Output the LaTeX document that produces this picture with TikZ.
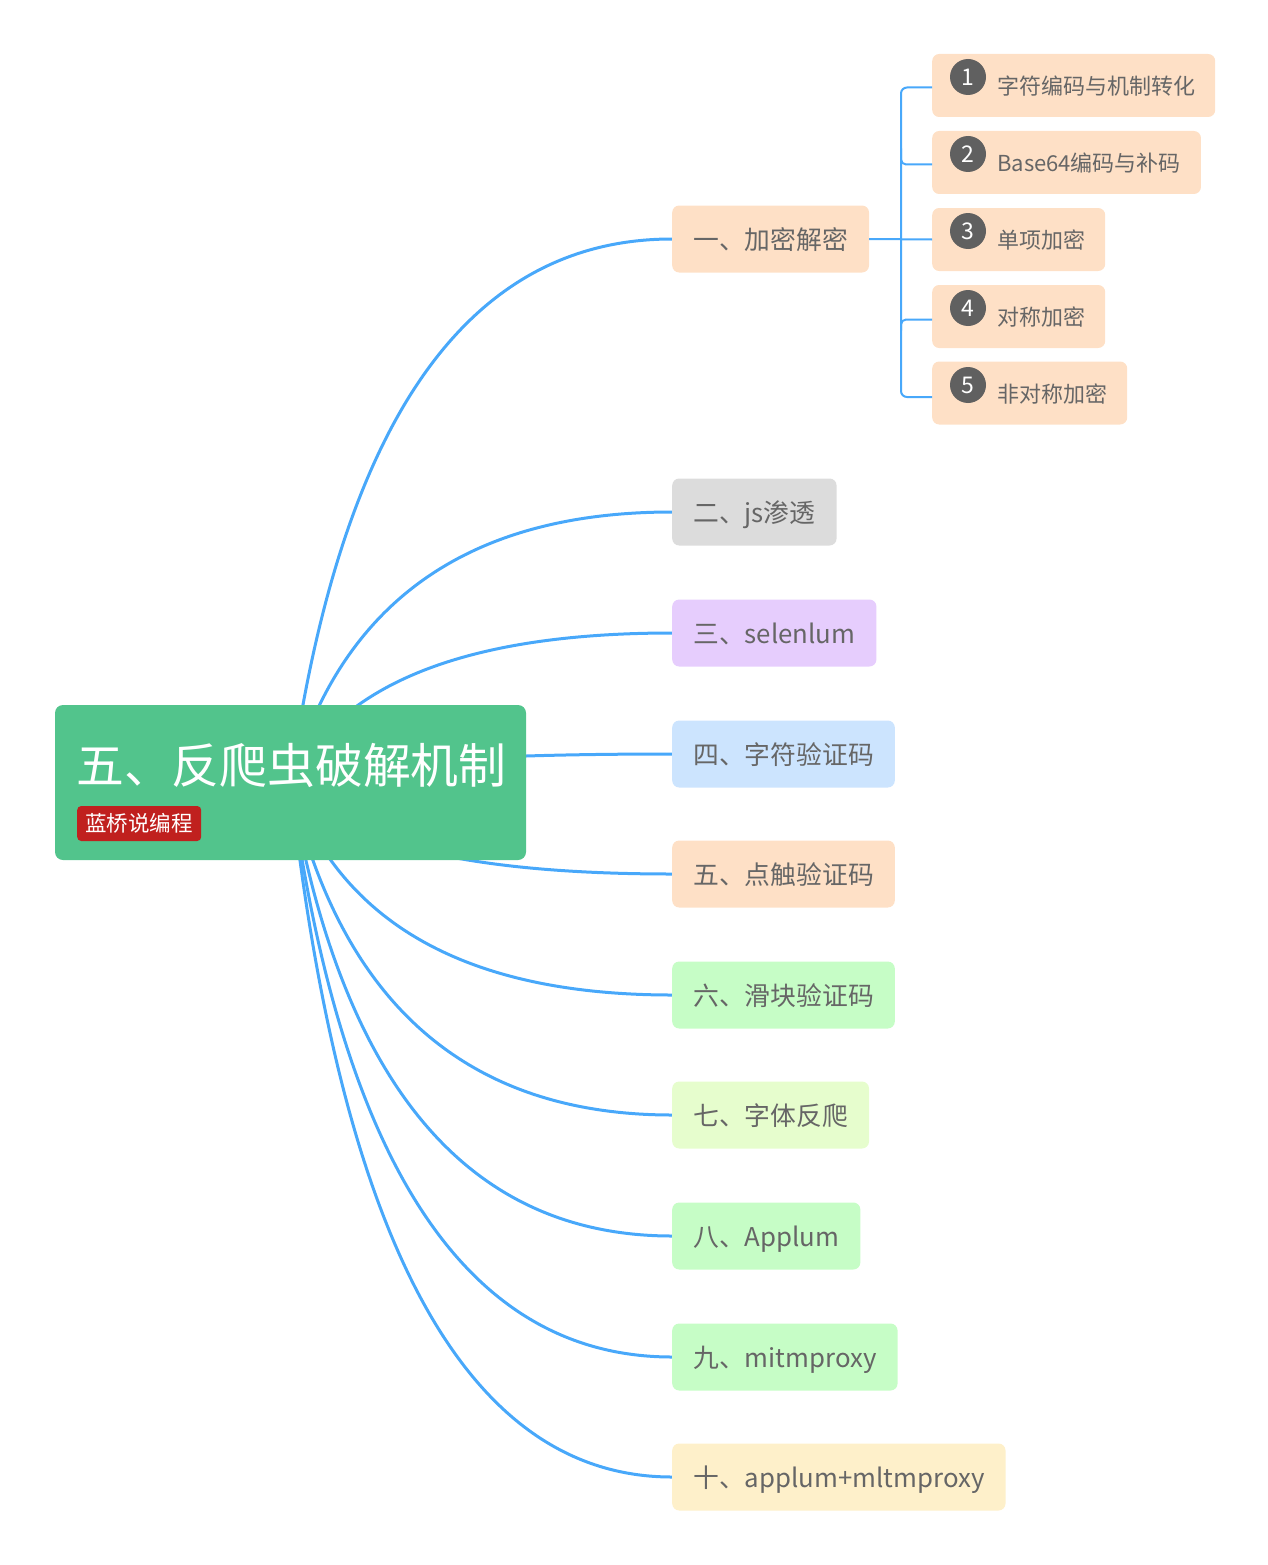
\documentclass[tikz,border=0pt]{standalone}
\usepackage{fontspec}
\newfontfamily\cjk{Noto Sans CJK SC}
\usetikzlibrary{calc}
\definecolor{curveblue}{RGB}{72,168,250}
\definecolor{peach}{RGB}{254,224,198}
\definecolor{graybox}{RGB}{220,220,220}
\definecolor{purplebox}{RGB}{230,205,253}
\definecolor{bluebox}{RGB}{204,228,254}
\definecolor{greenbox}{RGB}{198,253,198}
\definecolor{limebox}{RGB}{230,253,205}
\definecolor{yellowbox}{RGB}{254,240,202}
\definecolor{rootgreen}{RGB}{82,196,140}
\definecolor{tagred}{RGB}{192,32,30}
\definecolor{circgray}{RGB}{96,96,96}
\definecolor{txtgray}{RGB}{102,102,102}
\pgfdeclarelayer{background}
\pgfsetlayers{background,main}
\tikzset{
  branch/.style={fill=#1, rounded corners=7pt, anchor=west, minimum height=67pt,
    inner xsep=21pt, inner ysep=0pt, text=txtgray, font=\cjk\fontsize{25.8}{30}\selectfont,
    text height=21pt, text depth=1pt},
  subbox/.style={fill=peach, rounded corners=7pt, anchor=west, minimum height=63pt,
    inner xsep=0pt, inner ysep=0pt, text=txtgray, font=\cjk\fontsize{22}{26}\selectfont,
    text height=18pt, text depth=0pt, align=left},
  numc/.style={circle, fill=circgray, minimum size=36pt, inner sep=0pt, text=white,
    font=\cjk\fontsize{23}{24}\selectfont},
  maincurve/.style={draw=curveblue, line width=3pt},
  subline/.style={draw=curveblue, line width=2pt},
}
\begin{document}
\begin{tikzpicture}[x=1pt,y=-1pt]
\useasboundingbox (0,0) rectangle (1267,1565);
% root
\node[fill=rootgreen, rounded corners=8pt, minimum width=471pt, minimum height=155pt, inner sep=0pt] (root) at (290.5,782.5) {};
\node[anchor=west, inner sep=0pt, text=white, font=\cjk\fontsize{47.8}{50}\selectfont] (title) at (76,765) {五、反爬虫破解机制};
\node[anchor=west, fill=tagred, rounded corners=4pt, minimum width=124pt, minimum height=35pt, inner sep=0pt, text=white, font=\cjk\fontsize{21.5}{24}\selectfont, text height=17pt, text depth=1pt] (tag) at (77,823.5) {蓝桥说编程};
% branches
\node[branch=peach] (b1) at (672,239) {一、加密解密};
\node[branch=graybox] (b2) at (672,512) {二、js渗透};
\node[branch=purplebox] (b3) at (672,633) {三、selenlum};
\node[branch=bluebox] (b4) at (672,754) {四、字符验证码};
\node[branch=peach] (b5) at (672,874) {五、点触验证码};
\node[branch=greenbox] (b6) at (672,995) {六、滑块验证码};
\node[branch=limebox] (b7) at (672,1115) {七、字体反爬};
\node[branch=greenbox] (b8) at (672,1236) {八、Applum};
\node[branch=greenbox] (b9) at (672,1357) {九、mitmproxy};
\node[branch=yellowbox] (b10) at (672,1477) {十、applum+mltmproxy};
% sub nodes
\node[subbox] (s1) at (932,85.5) {\hspace{65pt}字符编码与机制转化\hspace{20pt}};
\node[subbox] (s2) at (932,162.5) {\hspace{65pt}Base64编码与补码\hspace{20pt}};
\node[subbox] (s3) at (932,239.5) {\hspace{65pt}单项加密\hspace{20pt}};
\node[subbox] (s4) at (932,316.5) {\hspace{65pt}对称加密\hspace{20pt}};
\node[subbox] (s5) at (932,393) {\hspace{65pt}非对称加密\hspace{20pt}};
\node[numc] (c1) at (968,77) {1};
\node[numc] (c2) at (968,154) {2};
\node[numc] (c3) at (968,231) {3};
\node[numc] (c4) at (968,308) {4};
\node[numc] (c5) at (968,385) {5};
% connectors
\coordinate (ctl) at (366,782);
\coordinate (bus) at (901,0);
\begin{pgfonlayer}{background}
\foreach \b in {b1,b2,b3,b4,b5,b6,b7,b8,b9,b10}{
  \draw[maincurve] (root.center) .. controls ($(root.center)!0.6667!(\b.west -| ctl)$) and ($(\b.west)!0.6667!(\b.west -| ctl)$) .. (\b.west);
}
\end{pgfonlayer}
\draw[subline] (b1.east) -- (s3.west);
\draw[subline, rounded corners=6pt] ([yshift=-2pt]s1.west) -| (bus |- s3.west) |- ([yshift=-4pt]s5.west);
\draw[subline, rounded corners=5pt] ([yshift=-2pt]s2.west) -| ([yshift=14pt]bus |- s2.west);
\draw[subline, rounded corners=5pt] ([yshift=-3pt]s4.west) -| ([yshift=-14pt]bus |- s4.west);
\end{tikzpicture}
\end{document}
